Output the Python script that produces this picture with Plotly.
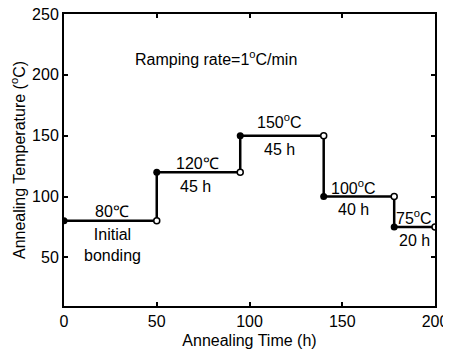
import plotly.graph_objects as go

# Step profile: each level starts (filled) and ends (open)
level_start_t = [0, 50, 95, 140, 178]
level_end_t = [50, 95, 140, 178, 200]
level_temp = [80, 120, 150, 100, 75]

x_ticks = [0, 50, 100, 150, 200]
y_ticks = [50, 100, 150, 200, 250]

# Annotation labels: (text, x, y)
labels = [
    ("80℃", 26, 88),
    ("Initial<br>bonding", 26, 60),
    ("120℃", 72, 127.5),
    ("45 h", 71, 108),
    ("150<sup>o</sup>C", 116, 162),
    ("45 h", 116, 139),
    ("100<sup>o</sup>C", 156, 108),
    ("40 h", 156, 89),
    ("75<sup>o</sup>C", 188.5, 83),
    ("20 h", 189, 63.5),
    ("Ramping rate=1<sup>o</sup>C/min", 82, 214),
]

line_x, line_y = [], []
for s, e, t in zip(level_start_t, level_end_t, level_temp):
    line_x += [s, e]
    line_y += [t, t]

FONT = "Arial"
FS = 16

fig = go.Figure()
fig.add_trace(go.Scatter(x=line_x, y=line_y, mode="lines",
                         line=dict(color="black", width=2.5), showlegend=False))
fig.add_trace(go.Scatter(x=level_start_t, y=level_temp, mode="markers",
                         marker=dict(color="black", size=7, symbol="circle"), showlegend=False))
fig.add_trace(go.Scatter(x=level_end_t, y=level_temp, mode="markers",
                         marker=dict(color="white", size=6, symbol="circle",
                                     line=dict(color="black", width=1.5)), showlegend=False))

for text, x, y in labels:
    fig.add_annotation(x=x, y=y, text=text, showarrow=False,
                       font=dict(size=FS, color="black", family=FONT))

axis_common = dict(showline=True, linecolor="black", linewidth=2, mirror="ticks",
                   ticks="inside", ticklen=4, tickwidth=1.5, tickcolor="black",
                   showgrid=False, zeroline=False, automargin=False,
                   ticklabeloverflow="allow",
                   tickfont=dict(size=FS, color="black", family=FONT))

fig.update_xaxes(range=[0, 200], tickvals=x_ticks,
                 title=dict(text="Annealing Time (h)", font=dict(size=FS, color="black", family=FONT), standoff=6),
                 **axis_common)
fig.update_yaxes(range=[10, 250], tickvals=y_ticks,
                 title=dict(text="Annealing Temperature (<sup>o</sup>C)", font=dict(size=FS, color="black", family=FONT), standoff=4),
                 **axis_common)

fig.update_layout(width=443, height=352, margin=dict(l=56, r=16, t=6, b=54),
                  plot_bgcolor="white", paper_bgcolor="white")

fig.write_html("out.html")
